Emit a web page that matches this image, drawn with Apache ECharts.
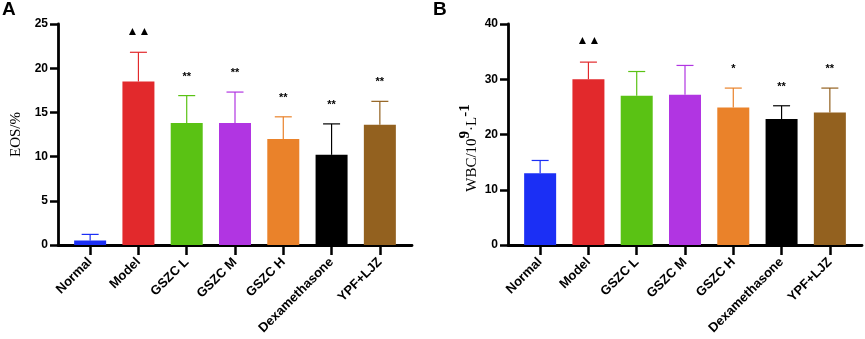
<!DOCTYPE html>
<html>
<head>
<meta charset="utf-8">
<script src="https://cdn.jsdelivr.net/npm/echarts@6/dist/echarts.min.js"></script>
<style>
  html, body { margin: 0; padding: 0; background: #fff; }
  #main { width: 865px; height: 339px; }
</style>
</head>
<body>
<div id="main"></div>
<script>
const groups = ['Normal', 'Model', 'GSZC L', 'GSZC M', 'GSZC H', 'Dexamethasone', 'YPF+LJZ'];
const barColors = ['#1b2ff5', '#e2292c', '#5ac214', '#b135e2', '#ea822a', '#000000', '#93611f'];

const eosMean = [0.5, 18.5, 13.8, 13.8, 12.0, 10.2, 13.6];
const eosErrTop = [1.2, 21.8, 16.9, 17.3, 14.5, 13.7, 16.25];
const eosMarks = ['', '▲▲', '**', '**', '**', '**', '**'];
const eosTicks = [0, 5, 10, 15, 20, 25];

const wbcMean = [13.0, 30.0, 27.0, 27.2, 24.9, 22.8, 24.0];
const wbcErrTop = [15.3, 33.1, 31.4, 32.5, 28.4, 25.2, 28.4];
const wbcMarks = ['', '▲▲', '', '', '*', '**', '**'];
const wbcTicks = [0, 10, 20, 30, 40];

const FONT = '"Liberation Sans", Arial, sans-serif';
const SERIF = '"Liberation Serif", "Times New Roman", serif';

const myChart = echarts.init(document.getElementById('main'));

function frameGrid(left) {
  return {left: left, top: 24, width: 354, height: 221};
}
function barGrid(left) {
  return {left: left + 8, top: 24, width: 338, height: 221};
}

function frameX(gi) {
  return {
    type: 'value', gridIndex: gi, min: 0, max: 1,
    axisLine: {show: true, lineStyle: {color: '#000', width: 2.8}},
    axisTick: {show: false}, axisLabel: {show: false}, splitLine: {show: false}
  };
}
function catX(gi) {
  return {
    type: 'category', gridIndex: gi, data: groups,
    axisLine: {show: false},
    axisTick: {show: true, alignWithLabel: true, length: 10, lineStyle: {color: '#000', width: 2.5}},
    axisLabel: {rotate: 45, interval: 0, margin: 15, color: '#000', fontFamily: FONT, fontWeight: 'bold', fontSize: 13}
  };
}
function frameY(gi, ticks, name) {
  return {
    type: 'value', gridIndex: gi, min: ticks[0], max: ticks[ticks.length - 1],
    interval: ticks[1] - ticks[0],
    name: name, nameLocation: 'middle', nameRotate: 90, nameGap: 34,
    nameTextStyle: {color: '#000', fontFamily: SERIF, fontSize: 15},
    axisLine: {show: true, lineStyle: {color: '#000', width: 2.8}},
    axisTick: {show: true, length: 8, lineStyle: {color: '#000', width: 2.5}},
    axisLabel: {margin: 10, color: '#000', fontFamily: FONT, fontWeight: 'bold', fontSize: 12},
    splitLine: {show: false}
  };
}
function hiddenY(gi, ticks) {
  return {type: 'value', gridIndex: gi, min: ticks[0], max: ticks[ticks.length - 1], show: false, splitLine: {show: false}};
}

function barSeries(ai, means) {
  return {
    type: 'bar', xAxisIndex: ai, yAxisIndex: ai, barWidth: 32,
    data: means.map((v, i) => ({value: v, itemStyle: {color: barColors[i]}})),
    silent: true
  };
}

function errSeries(ai, means, tops, marks) {
  return {
    type: 'custom', xAxisIndex: ai, yAxisIndex: ai, silent: true, z: 1,
    data: means.map((v, i) => [i, v, tops[i]]),
    renderItem: function (params, api) {
      const i = api.value(0);
      const lo = api.coord([i, api.value(1)]);
      const hi = api.coord([i, api.value(2)]);
      const col = barColors[i];
      const ls = {stroke: col, lineWidth: 1.2};
      const children = [
        {type: 'line', shape: {x1: lo[0], y1: lo[1], x2: hi[0], y2: hi[1]}, style: ls},
        {type: 'line', shape: {x1: hi[0] - 8.5, y1: hi[1], x2: hi[0] + 8.5, y2: hi[1]}, style: ls}
      ];
      const m = marks[i];
      if (m) {
        const tri = m.indexOf('▲') >= 0;
        children.push({
          type: 'text', z2: 10,
          style: {
            x: hi[0], y: hi[1] - (tri ? 21 : 19), text: m,
            textAlign: 'center', textVerticalAlign: 'middle',
            fill: '#000', font: 'bold ' + (tri ? 12 : 11) + 'px ' + FONT
          }
        });
      }
      return {type: 'group', children: children};
    }
  };
}

myChart.setOption({
  animation: false,
  backgroundColor: '#fff',
  title: [
    {text: 'A', left: 2, top: 0, padding: 0, textStyle: {fontFamily: FONT, fontWeight: 'bold', fontSize: 19, color: '#000'}},
    {text: 'B', left: 433, top: 0, padding: 0, textStyle: {fontFamily: FONT, fontWeight: 'bold', fontSize: 19, color: '#000'}}
  ],
  graphic: [{
    type: 'text', x: 469, y: 148, rotation: Math.PI / 2,
    style: {
      text: '{n|WBC/10}{s|9}{n|·L}{s|-1}',
      textAlign: 'center', textVerticalAlign: 'middle',
      rich: {
        n: {fontFamily: SERIF, fontSize: 15, fill: '#000', verticalAlign: 'bottom'},
        s: {fontFamily: SERIF, fontSize: 15, fontWeight: 'bold', fill: '#000', verticalAlign: 'bottom', padding: [0, 0, 7, 0]}
      }
    }
  }],
  grid: [frameGrid(58), barGrid(58), frameGrid(508), barGrid(508)],
  xAxis: [frameX(0), catX(1), frameX(2), catX(3)],
  yAxis: [
    frameY(0, eosTicks, 'EOS/%'),
    hiddenY(1, eosTicks),
    frameY(2, wbcTicks, ''),
    hiddenY(3, wbcTicks)
  ],
  series: [
    barSeries(1, eosMean),
    errSeries(1, eosMean, eosErrTop, eosMarks),
    barSeries(3, wbcMean),
    errSeries(3, wbcMean, wbcErrTop, wbcMarks)
  ]
});
</script>
</body>
</html>
